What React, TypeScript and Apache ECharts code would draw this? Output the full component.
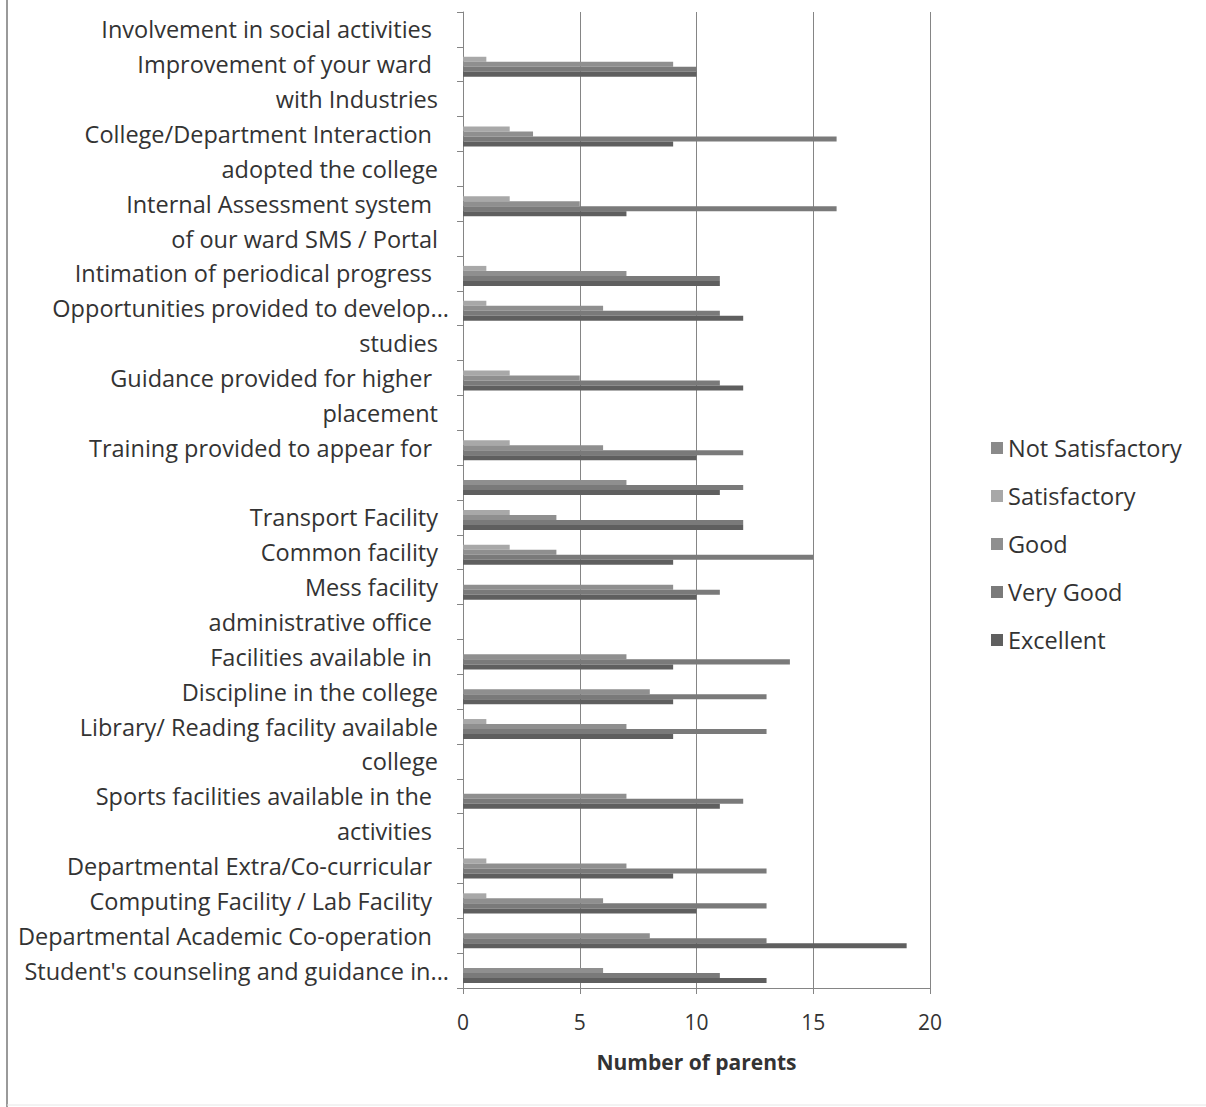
import React, { useEffect, useRef } from "react";
import * as echarts from "echarts";

const categories = [
  "Involvement in social activities ",
  "Improvement of your ward ",
  "with Industries",
  "College/Department Interaction ",
  "adopted the college",
  "Internal Assessment system ",
  "of our ward SMS / Portal",
  "Intimation of periodical progress ",
  "Opportunities provided to develop...",
  "studies",
  "Guidance provided for higher ",
  "placement",
  "Training provided to appear for ",
  "",
  "Transport Facility",
  "Common facility",
  "Mess facility",
  "administrative office ",
  "Facilities available in ",
  "Discipline in the college",
  "Library/ Reading facility available",
  "college",
  "Sports facilities available in the ",
  "activities ",
  "Departmental Extra/Co-curricular ",
  "Computing Facility / Lab Facility ",
  "Departmental Academic Co-operation ",
  "Student's counseling and guidance in...",
];

const seriesNames = ["Not Satisfactory", "Satisfactory", "Good", "Very Good", "Excellent"];

const notSatisfactory = [0, 0, 0, 0, 0, 0, 0, 0, 0, 0, 0, 0, 0, 0, 0, 0, 0, 0, 0, 0, 0, 0, 0, 0, 0, 0, 0, 0];
const satisfactory = [0, 1, 0, 2, 0, 2, 0, 1, 1, 0, 2, 0, 2, 0, 2, 2, 0, 0, 0, 0, 1, 0, 0, 0, 1, 1, 0, 0];
const good = [0, 9, 0, 3, 0, 5, 0, 7, 6, 0, 5, 0, 6, 7, 4, 4, 9, 0, 7, 8, 7, 0, 7, 0, 7, 6, 8, 6];
const veryGood = [0, 10, 0, 16, 0, 16, 0, 11, 11, 0, 11, 0, 12, 12, 12, 15, 11, 0, 14, 13, 13, 0, 12, 0, 13, 13, 13, 11];
const excellent = [0, 10, 0, 9, 0, 7, 0, 11, 12, 0, 12, 0, 10, 11, 12, 9, 10, 0, 9, 9, 9, 0, 11, 0, 9, 10, 19, 13];

const xTicks = { min: 0, max: 20, interval: 5 };

const colors = ["#8a8a8a", "#a8a8a8", "#8f8f8f", "#7a7a7a", "#5f5f5f"];
const FONT = "'Open Sans', sans-serif";
const TEXT = "#333333";
const LINE = "#858585";
const FS = 23.5;

export default function App() {
  const ref = useRef<HTMLDivElement>(null);
  useEffect(() => {
    if (!ref.current) return;
    const chart = echarts.init(ref.current, null, { renderer: "svg" });
    const values = [notSatisfactory, satisfactory, good, veryGood, excellent];
    chart.setOption({
      animation: false,
      backgroundColor: "#ffffff",
      textStyle: { fontFamily: FONT },
      grid: { left: 463, top: 12, right: 276, bottom: 119, containLabel: false },
      legend: {
        orient: "vertical",
        left: 986,
        top: 431,
        itemWidth: 12,
        itemHeight: 12,
        itemGap: 24,
        icon: "rect",
        data: seriesNames,
        textStyle: { fontFamily: FONT, fontSize: FS, color: TEXT, lineHeight: 24 },
      },
      xAxis: {
        type: "value",
        min: xTicks.min,
        max: xTicks.max,
        interval: xTicks.interval,
        name: "Number of parents",
        nameLocation: "middle",
        nameGap: 63,
        nameTextStyle: { fontFamily: FONT, fontSize: 21, fontWeight: "bold", color: TEXT },
        axisLine: { show: true, lineStyle: { color: LINE, width: 1 } },
        axisTick: { show: true, length: 6, lineStyle: { color: LINE } },
        axisLabel: { fontFamily: FONT, fontSize: 21, color: TEXT, margin: 23 },
        splitLine: { show: true, lineStyle: { color: LINE, width: 1 } },
      },
      yAxis: {
        type: "category",
        inverse: true,
        data: categories,
        axisLine: { show: true, lineStyle: { color: LINE, width: 1 } },
        axisTick: { show: true, length: 6, alignWithLabel: false, lineStyle: { color: LINE } },
        axisLabel: {
          interval: 0,
          margin: 6,
          fontFamily: FONT,
          fontSize: FS,
          color: TEXT,
          formatter: (v: string) => {
            if (!v) return "";
            if (v.endsWith("...")) return "{e|" + v + "}";
            if (v.endsWith(" ")) return "{s|" + v.trim() + "}";
            return "{n|" + v + "}";
          },
          rich: {
            n: { fontFamily: FONT, fontSize: FS, color: TEXT, padding: [0, 19, 0, 0] },
            s: { fontFamily: FONT, fontSize: FS, color: TEXT, padding: [0, 25, 0, 0] },
            e: { fontFamily: FONT, fontSize: FS, color: TEXT, padding: [0, 8, 0, 0] },
          },
        },
        splitLine: { show: false },
      },
      series: seriesNames.map((name, i) => ({
        name,
        type: "bar",
        data: values[i],
        barGap: "0%",
        barCategoryGap: "28%",
        itemStyle: { color: colors[i] },
      })),
      graphic: [
        { type: "line", shape: { x1: 7, y1: 0, x2: 7, y2: 1107 }, style: { stroke: "#9a9a9a", lineWidth: 2 } },
        { type: "line", shape: { x1: 7, y1: 1105, x2: 1206, y2: 1105 }, style: { stroke: "#e6e6e6", lineWidth: 1 } },
      ],
    });
    return () => chart.dispose();
  }, []);
  return <div ref={ref} style={{ position: "absolute", left: 0, top: 0, width: 1206, height: 1107 }} />;
}
